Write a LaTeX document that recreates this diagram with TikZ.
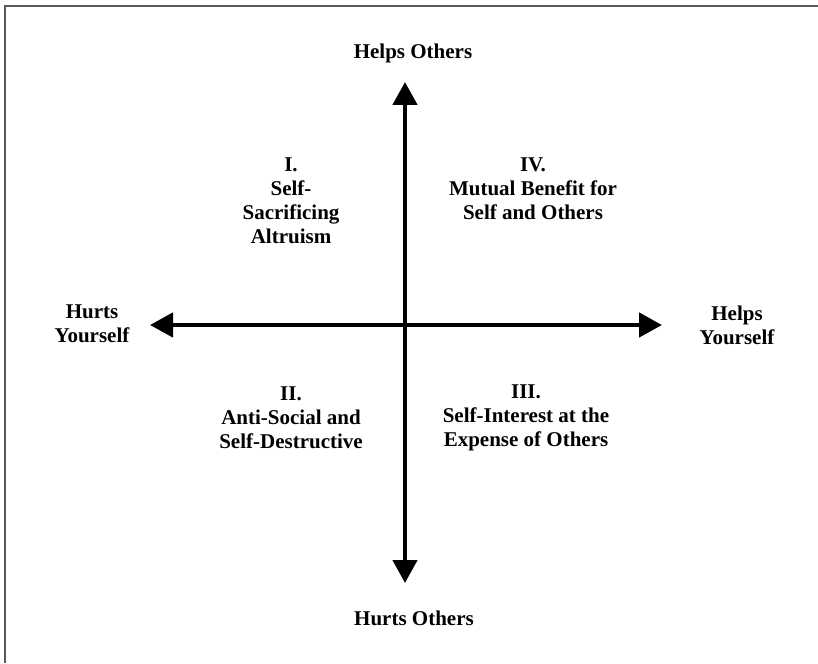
\documentclass[tikz,border=0pt]{standalone}
\usepackage{fontspec}
\setmainfont{Liberation Serif}
\usetikzlibrary{arrows.meta, positioning}
\tikzset{
	x=1pt, y=-1pt, % Coordenadas como en la imagen
	axis/.style={line width=4.5pt, {Triangle[length=23pt,width=24pt]}-{Triangle[length=23pt,width=24pt]}}, % Ejes con flechas
	lbl/.style={font=\fontsize{21}{24}\selectfont\bfseries, align=center, inner sep=0pt}, % Textos
	frame/.style={draw=black!65, line width=2pt} % Marco
}

\begin{document}
\begin{tikzpicture}
				\useasboundingbox (0,0) rectangle (818,663);
				\draw[frame] (5,663) -- (5,6) -- (818,6);
				\coordinate (o) at (405,325);
				\coordinate (w) at (150,325);
				\coordinate (e) at (662,325);
				\coordinate (n) at (405,82);
				\coordinate (s) at (405,583);
				\node[lbl] (helpsO) at (413,53) {Helps Others};
				\node[lbl] (hurtsO) at (414,618) {Hurts Others};
				\node[lbl] (hurtsY) at (92,324) {Hurts\\Yourself};
				\node[lbl] (helpsY) at (737,325) {Helps\\Yourself};
				\node[lbl] (q1) at (291,201) {I.\\Self-\\Sacrificing\\Altruism};
				\node[lbl] (q4) at (533,189) {IV.\\Mutual Benefit for\\Self and Others};
				\node[lbl] (q2) at (291,418) {II.\\Anti-Social and\\Self-Destructive};
				\node[lbl] (q3) at (526,418) {III.\\Self-Interest at the\\Expense of Others};
				\draw[axis] (w) -- (e);
				\draw[axis] (s) -- (n);
\end{tikzpicture}
\end{document}
